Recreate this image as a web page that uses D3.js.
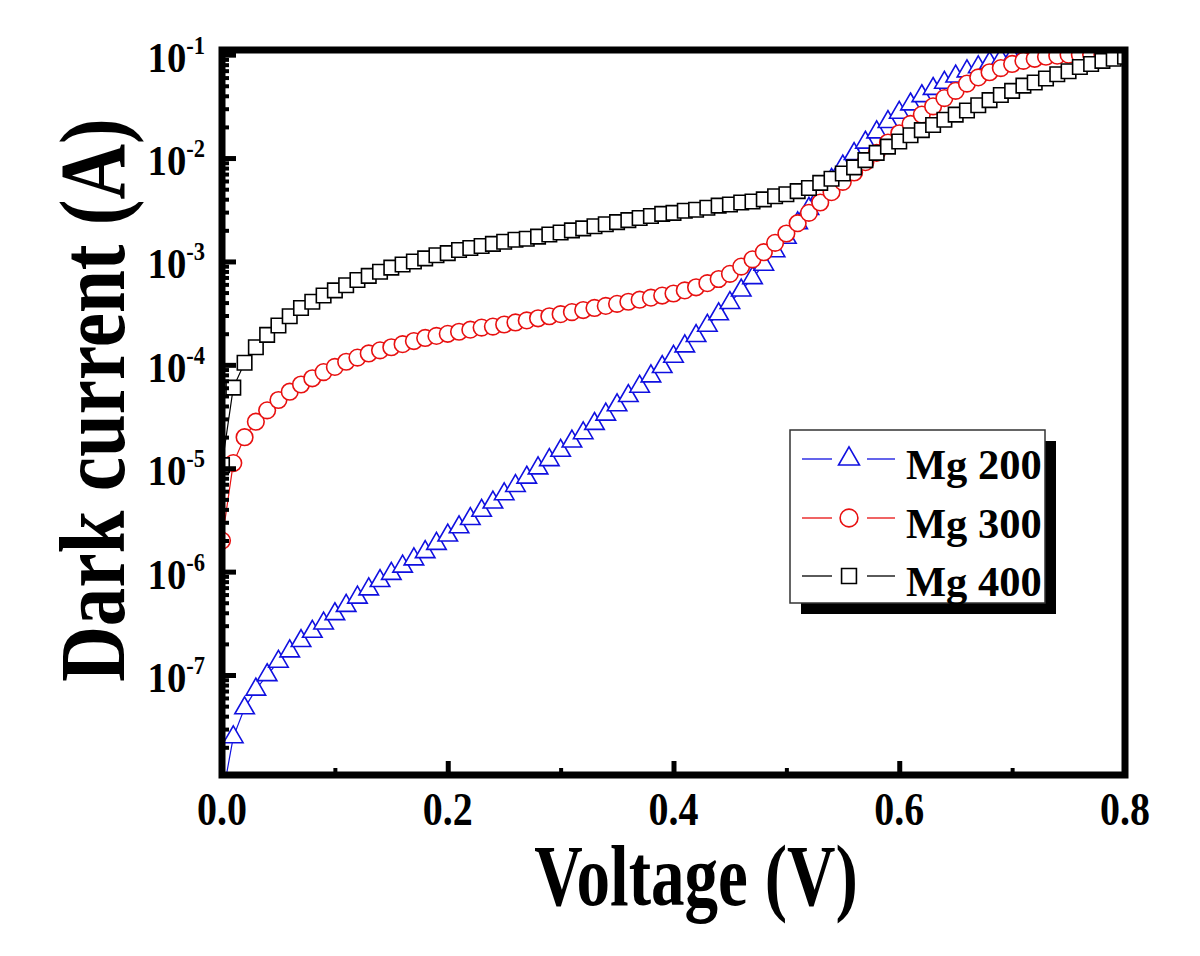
<!DOCTYPE html>
<html>
<head>
<meta charset="utf-8">
<script src="https://cdn.jsdelivr.net/npm/d3@7"></script>
<style>
  html, body { margin: 0; padding: 0; background: #fff; }
  svg { display: block; font-family: "Liberation Serif", "Times New Roman", serif; font-weight: bold; }
</style>
</head>
<body>
<svg id="chart" width="1200" height="956"></svg>
<script>
// Dark current vs voltage, log y — values kept as log10(A)

const voltage = [
  0.00, 0.01, 0.02, 0.03, 0.04, 0.05, 0.06, 0.07, 0.08, 0.09,
  0.10, 0.11, 0.12, 0.13, 0.14, 0.15, 0.16, 0.17, 0.18, 0.19,
  0.20, 0.21, 0.22, 0.23, 0.24, 0.25, 0.26, 0.27, 0.28, 0.29,
  0.30, 0.31, 0.32, 0.33, 0.34, 0.35, 0.36, 0.37, 0.38, 0.39,
  0.40, 0.41, 0.42, 0.43, 0.44, 0.45, 0.46, 0.47, 0.48, 0.49,
  0.50, 0.51, 0.52, 0.53, 0.54, 0.55, 0.56, 0.57, 0.58, 0.59,
  0.60, 0.61, 0.62, 0.63, 0.64, 0.65, 0.66, 0.67, 0.68, 0.69,
  0.70, 0.71, 0.72, 0.73, 0.74, 0.75, 0.76, 0.77, 0.78, 0.79,
  0.80
];

const mg200 = [
  -8.20, -7.60, -7.32, -7.14, -7.00, -6.87, -6.77, -6.67, -6.58, -6.50,
  -6.41, -6.33, -6.25, -6.17, -6.09, -6.02, -5.95, -5.88, -5.81, -5.73,
  -5.65, -5.57, -5.49, -5.41, -5.33, -5.25, -5.17, -5.09, -5.00, -4.92,
  -4.83, -4.74, -4.66, -4.57, -4.48, -4.39, -4.30, -4.21, -4.11, -4.02,
  -3.92, -3.82, -3.72, -3.62, -3.51, -3.40, -3.28, -3.16, -3.03, -2.90,
  -2.77, -2.63, -2.49, -2.35, -2.21, -2.08, -1.96, -1.85, -1.75, -1.65,
  -1.56, -1.48, -1.40, -1.33, -1.27, -1.21, -1.16, -1.12, -1.08, -1.05,
  -1.03, -1.01, -1.00, -1.00, -1.00, -1.00, -1.00, -1.00, -1.00, -1.00,
  -1.00
];

const mg300 = [
  -5.70, -4.95, -4.70, -4.55, -4.44, -4.34, -4.26, -4.19, -4.13, -4.07,
  -4.02, -3.97, -3.93, -3.89, -3.86, -3.83, -3.80, -3.77, -3.74, -3.72,
  -3.70, -3.68, -3.66, -3.64, -3.63, -3.61, -3.59, -3.57, -3.55, -3.53,
  -3.51, -3.49, -3.47, -3.45, -3.43, -3.41, -3.39, -3.37, -3.35, -3.33,
  -3.31, -3.28, -3.25, -3.21, -3.17, -3.12, -3.05, -2.98, -2.91, -2.82,
  -2.73, -2.63, -2.53, -2.43, -2.33, -2.23, -2.14, -2.04, -1.95, -1.85,
  -1.76, -1.67, -1.58, -1.50, -1.42, -1.35, -1.28, -1.22, -1.17, -1.13,
  -1.09, -1.06, -1.04, -1.02, -1.01, -1.00, -1.00, -1.00, -1.00, -1.00,
  -1.00
];

const mg400 = [
  -4.97, -4.22, -3.98, -3.83, -3.71, -3.62, -3.53, -3.45, -3.39, -3.33,
  -3.28, -3.23, -3.18, -3.14, -3.10, -3.06, -3.03, -3.00, -2.97, -2.94,
  -2.92, -2.89, -2.87, -2.85, -2.83, -2.81, -2.79, -2.78, -2.76, -2.74,
  -2.72, -2.70, -2.68, -2.66, -2.64, -2.62, -2.60, -2.58, -2.56, -2.54,
  -2.53, -2.51, -2.50, -2.48, -2.46, -2.45, -2.43, -2.42, -2.40, -2.37,
  -2.35, -2.32, -2.29, -2.24, -2.20, -2.15, -2.09, -2.02, -1.95, -1.89,
  -1.84, -1.78, -1.73, -1.68, -1.63, -1.58, -1.54, -1.49, -1.44, -1.39,
  -1.35, -1.30, -1.27, -1.23, -1.19, -1.16, -1.12, -1.09, -1.06, -1.04,
  -1.02
];

const seriesNames = ["Mg 200", "Mg 300", "Mg 400"];
const seriesColors = ["#1010e0", "#e81010", "#000000"];
const seriesSymbols = ["triangle", "circle", "square"];

const xTickValues = [0, 0.2, 0.4, 0.6, 0.8];
const xTickLabels = ["0.0", "0.2", "0.4", "0.6", "0.8"];
const xMinorValues = [0.1, 0.3, 0.5, 0.7];
const yTickExps = [-7, -6, -5, -4, -3, -2, -1];

// ── layout ──
const svg = d3.select("#chart");
const plot = { left: 222, right: 1125, top: 50, bottom: 775 };

const xScale = d3.scaleLinear().domain([0, 0.8]).range([plot.left, plot.right]);
const yScale = d3.scaleLog().domain([Math.pow(10, -7.967), Math.pow(10, -0.955)])
  .range([plot.bottom, plot.top]);

svg.append("defs").append("clipPath").attr("id", "plot-clip")
  .append("rect")
  .attr("x", plot.left).attr("y", plot.top)
  .attr("width", plot.right - plot.left).attr("height", plot.bottom - plot.top);

const allSeries = [mg200, mg300, mg400].map((vals, i) => ({
  name: seriesNames[i], color: seriesColors[i], symbol: seriesSymbols[i],
  points: voltage.map((v, j) => ({ v, a: Math.pow(10, vals[j]) }))
}));

function symbolPath(kind, scale) {
  if (kind === "triangle") return d3.symbol().type(d3.symbolTriangle).size(165 * scale)();
  if (kind === "circle") return d3.symbol().type(d3.symbolCircle).size(Math.PI * 8.3 * 8.3 * scale)();
  return d3.symbol().type(d3.symbolSquare).size(14.5 * 14.5 * scale)();
}

const dataG = svg.append("g").attr("clip-path", "url(#plot-clip)");
const lineGen = d3.line().x(d => xScale(d.v)).y(d => yScale(d.a));

allSeries.forEach(s => {
  const g = dataG.append("g");
  g.append("path").datum(s.points)
    .attr("d", lineGen).attr("fill", "none")
    .attr("stroke", s.color).attr("stroke-width", 1.2);
  g.selectAll("path.mk").data(s.points).enter().append("path")
    .attr("class", "mk")
    .attr("d", symbolPath(s.symbol, 1))
    .attr("transform", d => `translate(${xScale(d.v)},${yScale(d.a)})`)
    .attr("fill", "#fff").attr("stroke", s.color).attr("stroke-width", 1.6);
});

// ── axes: ticks inward, labels custom ──
const yMinor = [];
yTickExps.concat([-8]).forEach(e => {
  for (let k = 2; k <= 9; k++) {
    const val = k * Math.pow(10, e);
    if (val < yScale.domain()[1] && val > yScale.domain()[0]) yMinor.push(val);
  }
});

const axG = svg.append("g");
const yMajAx = axG.append("g").attr("transform", `translate(${plot.left},0)`)
  .call(d3.axisLeft(yScale).tickValues(yTickExps.map(e => Math.pow(10, e))).tickSize(-14).tickFormat(""));
const yMinAx = axG.append("g").attr("transform", `translate(${plot.left},0)`)
  .call(d3.axisLeft(yScale).tickValues(yMinor).tickSize(-7).tickFormat(""));
const xMajAx = axG.append("g").attr("transform", `translate(0,${plot.bottom})`)
  .call(d3.axisBottom(xScale).tickValues(xTickValues).tickSize(-14).tickFormat(""));
const xMinAx = axG.append("g").attr("transform", `translate(0,${plot.bottom})`)
  .call(d3.axisBottom(xScale).tickValues(xMinorValues).tickSize(-7).tickFormat(""));
[yMajAx, xMajAx].forEach(a => a.selectAll("line").attr("stroke", "#000").attr("stroke-width", 5));
[yMinAx, xMinAx].forEach(a => a.selectAll("line").attr("stroke", "#000").attr("stroke-width", 4));
axG.selectAll(".domain").remove();

// frame
svg.append("rect")
  .attr("x", plot.left).attr("y", plot.top)
  .attr("width", plot.right - plot.left).attr("height", plot.bottom - plot.top)
  .attr("fill", "none").attr("stroke", "#000").attr("stroke-width", 7);

// helper: narrow bold text (source font is condensed)
function narrowText(x, y, sx, rot) {
  return svg.append("g")
    .attr("transform", `translate(${x},${y}) rotate(${rot || 0}) scale(${sx},1)`)
    .append("text");
}

// y tick labels 10^n
yTickExps.forEach(e => {
  const t = narrowText(205, yScale(Math.pow(10, e)) + 17, 0.9).attr("text-anchor", "end");
  t.append("tspan").attr("font-size", 43).text("10");
  t.append("tspan").attr("font-size", 25).attr("dy", -18).text(String(e));
});

// x tick labels
xTickValues.forEach((v, i) => {
  narrowText(xScale(v), 825, 0.85).attr("text-anchor", "middle")
    .attr("font-size", 47).text(xTickLabels[i]);
});

// axis titles
narrowText(696, 905, 0.78).attr("text-anchor", "middle")
  .attr("font-size", 86).text("Voltage (V)");
narrowText(124, 400, 0.82, -90).attr("text-anchor", "middle")
  .attr("font-size", 94).text("Dark current (A)");

// ── legend with drop shadow ──
const lg = { x: 790, y: 430, w: 255, h: 173, rowY: [459, 518, 576] };
svg.append("rect").attr("x", lg.x + 11).attr("y", lg.y + 11)
  .attr("width", lg.w).attr("height", lg.h).attr("fill", "#000");
svg.append("rect").attr("x", lg.x).attr("y", lg.y)
  .attr("width", lg.w).attr("height", lg.h)
  .attr("fill", "#fff").attr("stroke", "#333").attr("stroke-width", 1.5);

allSeries.forEach((s, i) => {
  const ry = lg.rowY[i];
  const row = svg.append("g");
  row.append("line").attr("x1", 802).attr("x2", 832).attr("y1", ry).attr("y2", ry)
    .attr("stroke", s.color).attr("stroke-width", 1.3);
  row.append("line").attr("x1", 867).attr("x2", 895).attr("y1", ry).attr("y2", ry)
    .attr("stroke", s.color).attr("stroke-width", 1.3);
  const sc = s.symbol === "triangle" ? 1.15 : s.symbol === "circle" ? 1.15 : 1.05;
  row.append("path").attr("d", symbolPath(s.symbol, sc))
    .attr("transform", `translate(849,${ry})`)
    .attr("fill", "#fff").attr("stroke", s.color).attr("stroke-width", 1.6);
  row.append("text").attr("x", 906).attr("y", ry + 20)
    .attr("font-size", 42.5).text(s.name);
});
</script>
</body>
</html>
